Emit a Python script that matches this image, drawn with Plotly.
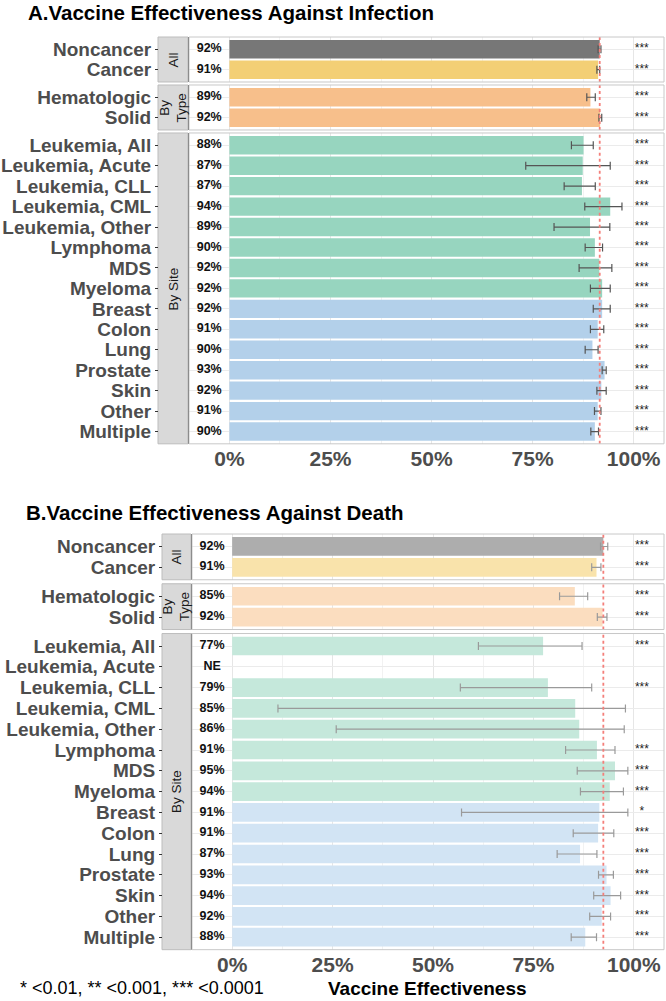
import plotly.graph_objects as go

W, H = 666, 1001
FONT = "Liberation Sans"

# ---------------- data ----------------
CATS_ALL = ["Noncancer", "Cancer"]
CATS_TYPE = ["Hematologic", "Solid"]
CATS_SITE = ["Leukemia, All", "Leukemia, Acute", "Leukemia, CLL", "Leukemia, CML",
             "Leukemia, Other", "Lymphoma", "MDS", "Myeloma", "Breast", "Colon",
             "Lung", "Prostate", "Skin", "Other", "Multiple"]
STRIP_LABELS = ["All", "By<br>Type", "By Site"]
HEME_SITES = ["Leukemia, All", "Leukemia, Acute", "Leukemia, CLL", "Leukemia, CML",
              "Leukemia, Other", "Lymphoma", "MDS", "Myeloma"]

# Infection (panel A), order: All, By Type, By Site
INF_VE = [91.6, 91.2, 89.3, 91.7,
          87.6, 87.4, 87.2, 94.2, 89.2, 90.4, 91.5, 92.2, 92.2, 91.1, 89.8, 92.8, 92.0, 91.1, 90.4]
INF_LO = [91.2, 90.9, 88.4, 91.4,
          84.6, 73.3, 82.8, 87.9, 80.3, 88.0, 86.5, 89.3, 90.0, 89.3, 88.0, 92.2, 90.9, 90.3, 89.4]
INF_HI = [91.9, 91.6, 90.5, 92.1,
          90.0, 94.2, 90.5, 97.1, 94.1, 92.3, 94.6, 94.2, 94.2, 92.6, 91.2, 93.2, 93.2, 91.9, 91.3]
INF_LABEL = ["92%", "91%", "89%", "92%",
             "88%", "87%", "87%", "94%", "89%", "90%", "92%", "92%", "92%", "91%", "90%", "93%", "92%", "91%", "90%"]
INF_SIG = ["***"] * 19

# Death (panel B)
DEA_VE = [92.4, 90.7, 85.3, 92.2,
          77.4, None, 78.6, 85.4, 86.4, 90.8, 95.3, 94.0, 91.4, 91.1, 86.6, 93.2, 94.2, 92.0, 87.9]
DEA_LO = [91.7, 89.5, 81.5, 90.9,
          61.3, None, 56.8, 11.4, 25.9, 83.0, 85.9, 86.7, 57.1, 84.9, 80.9, 91.2, 90.0, 89.0, 84.4]
DEA_HI = [93.5, 91.8, 88.5, 93.3,
          87.1, None, 89.5, 97.9, 97.6, 95.3, 98.5, 97.4, 98.5, 95.0, 90.8, 94.9, 96.7, 94.2, 90.7]
DEA_LABEL = ["92%", "91%", "85%", "92%",
             "77%", "NE", "79%", "85%", "86%", "91%", "95%", "94%", "91%", "91%", "87%", "93%", "94%", "92%", "88%"]
DEA_SIG = ["***", "***", "***", "***",
           "***", "", "***", "", "", "***", "***", "***", "*", "***", "***", "***", "***", "***", "***"]

X_TICKS = [0, 25, 50, 75, 100]
X_TICK_TEXT = ["0%", "25%", "50%", "75%", "100%"]
X_MINOR = [12.5, 37.5, 62.5, 87.5]
LABEL_X = -5
STAR_X = 102
X_RANGE = [-10, 107.5]

TITLE_A = "A.Vaccine Effectiveness Against Infection"
TITLE_B = "B.Vaccine Effectiveness Against Death"
X_TITLE = "Vaccine Effectiveness"
FOOTNOTE = "* <0.01, ** <0.001, *** <0.0001"

# ---------------- styles ----------------
COL_A = {"noncancer": "#777777", "cancer": "#F3CF75", "type": "#F7BF8B",
         "heme": "#97D5BF", "solid": "#B3D0EA"}
COL_B = {"noncancer": "#ADADAD", "cancer": "#F9E3AB", "type": "#FBDDBF",
         "heme": "#C5E8DB", "solid": "#D2E4F4"}


def color_of(cat, pal):
    if cat == "Noncancer":
        return pal["noncancer"]
    if cat == "Cancer":
        return pal["cancer"]
    if cat in CATS_TYPE:
        return pal["type"]
    if cat in HEME_SITES:
        return pal["heme"]
    return pal["solid"]


def X(px):
    return px / W


def Y(py):
    return 1 - py / H


fig = go.Figure()
layout = dict(width=W, height=H, margin=dict(l=0, r=0, t=0, b=0, autoexpand=False),
              paper_bgcolor="white", plot_bgcolor="white", showlegend=False,
              font=dict(family=FONT))
shapes = []
annotations = []

GROUPS = [CATS_ALL, CATS_TYPE, CATS_SITE]

charts = [
    dict(xid="x", yids=["y", "y2", "y3"], top=37, pitch=20.45, gap=3,
         pl=189, pr=664, sl=158, sr=188, ve=INF_VE, lo=INF_LO, hi=INF_HI,
         lab=INF_LABEL, sig=INF_SIG, pal=COL_A, err="#555555",
         title=TITLE_A, title_x=26, title_y=12),
    dict(xid="x2", yids=["y4", "y5", "y6"], top=534, pitch=20.8, gap=4,
         pl=192, pr=664, sl=162, sr=191, ve=DEA_VE, lo=DEA_LO, hi=DEA_HI,
         lab=DEA_LABEL, sig=DEA_SIG, pal=COL_B, err="#9a9a9a",
         title=TITLE_B, title_x=24, title_y=512),
]

for ci, ch in enumerate(charts):
    xid = ch["xid"]
    xkey = "xaxis" if xid == "x" else "xaxis" + xid[1:]
    y_cursor = ch["top"]
    start = 0
    for gi, cats in enumerate(GROUPS):
        n = len(cats)
        yid = ch["yids"][gi]
        ykey = "yaxis" if yid == "y" else "yaxis" + yid[1:]
        h_px = ch["pitch"] * (n + 0.2)
        y0_px, y1_px = y_cursor, y_cursor + h_px
        y_cursor = y1_px + ch["gap"]
        sl_ = slice(start, start + n)
        start += n
        ve = ch["ve"][sl_]
        lo = ch["lo"][sl_]
        hi = ch["hi"][sl_]
        plus = [None if v is None else h - v for v, h in zip(ve, hi)]
        minus = [None if v is None else v - l for v, l in zip(ve, lo)]
        fig.add_trace(go.Bar(
            x=ve, y=cats, orientation="h", width=0.9,
            marker=dict(color=[color_of(c, ch["pal"]) for c in cats], line=dict(width=0)),
            error_x=dict(type="data", symmetric=False, array=plus, arrayminus=minus,
                         color=ch["err"], thickness=1.2, width=4),
            xaxis=xid, yaxis=yid, hoverinfo="skip"))
        fig.add_trace(go.Scatter(
            x=[LABEL_X] * n, y=cats, mode="text", text=ch["lab"][sl_],
            textfont=dict(size=12.5, color="#111111", family=FONT, weight="bold"),
            xaxis=xid, yaxis=yid, hoverinfo="skip", cliponaxis=False))
        fig.add_trace(go.Scatter(
            x=[STAR_X] * n, y=cats, mode="text", text=ch["sig"][sl_],
            textfont=dict(size=12, color="#222222", family=FONT),
            xaxis=xid, yaxis=yid, hoverinfo="skip", cliponaxis=False))
        layout[ykey] = dict(
            domain=[Y(y1_px), Y(y0_px)], anchor="free", position=X(ch["sl"]),
            type="category", categoryorder="array", categoryarray=cats,
            tickmode="array", tickvals=cats, ticktext=cats,
            range=[n - 0.4, -0.6], showgrid=True, gridcolor="#EBEBEB", gridwidth=1,
            ticks="outside", ticklen=3, tickcolor="#333333", showline=False,
            zeroline=False, fixedrange=True, automargin=False,
            tickfont=dict(size=19, color="#4D4D4D", family=FONT, weight="bold"))
        # reference line at the noncancer VE
        shapes.append(dict(type="line", xref=xid, yref=f"{yid} domain",
                           x0=ch["ve"][0], x1=ch["ve"][0], y0=0, y1=1,
                           line=dict(color="#F47F7A", width=1.8, dash="dot"), layer="above"))
        # panel border
        shapes.append(dict(type="rect", xref="paper", yref="paper",
                           x0=X(ch["pl"]), x1=X(ch["pr"]), y0=Y(y1_px), y1=Y(y0_px),
                           line=dict(color="#C8C8C8", width=1), layer="above"))
        # strip
        shapes.append(dict(type="rect", xref="paper", yref="paper",
                           x0=X(ch["sl"]), x1=X(ch["sr"]), y0=Y(y1_px), y1=Y(y0_px),
                           fillcolor="#D9D9D9", line=dict(color="#BDBDBD", width=1), layer="below"))
        shapes.append(dict(type="line", xref="paper", yref="paper",
                           x0=X(ch["sr"] + 0.5), x1=X(ch["sr"] + 0.5), y0=Y(y1_px), y1=Y(y0_px),
                           line=dict(color="#8C8C8C", width=1), layer="above"))
        annotations.append(dict(xref="paper", yref="paper", x=X((ch["sl"] + ch["sr"]) / 2),
                                y=Y((y0_px + y1_px) / 2), text=STRIP_LABELS[gi], showarrow=False,
                                textangle=-90, font=dict(size=13.5, color="#1A1A1A", family=FONT),
                                xanchor="center", yanchor="middle"))
    layout[xkey] = dict(
        domain=[X(ch["pl"]), X(ch["pr"])], anchor=ch["yids"][2], range=X_RANGE,
        tickmode="array", tickvals=X_TICKS, ticktext=X_TICK_TEXT,
        showgrid=True, gridcolor="#E6E6E6", gridwidth=1, zeroline=False,
        minor=dict(tickmode="array", tickvals=X_MINOR,
                   showgrid=True, gridcolor="#F2F2F2", gridwidth=0.8),
        ticks="", fixedrange=True, showline=False, automargin=False,
        tickfont=dict(size=21, color="#4D4D4D", family=FONT, weight="bold"))
    annotations.append(dict(xref="paper", yref="paper", x=X(ch["title_x"]), y=Y(ch["title_y"]),
                            text=ch["title"], showarrow=False, xanchor="left", yanchor="middle",
                            font=dict(size=20.5, color="#000000", family=FONT, weight="bold")))

annotations.append(dict(xref="paper", yref="paper", x=X(428), y=Y(988), text=X_TITLE,
                        showarrow=False, xanchor="center", yanchor="middle",
                        font=dict(size=19, color="#000000", family=FONT, weight="bold")))
annotations.append(dict(xref="paper", yref="paper", x=X(18), y=Y(988), text=FOOTNOTE,
                        showarrow=False, xanchor="left", yanchor="middle",
                        font=dict(size=18, color="#000000", family=FONT)))

layout["shapes"] = shapes
layout["annotations"] = annotations
fig.update_layout(**layout)
fig.write_html("out.html", config={"displayModeBar": False},
               post_script="document.body.style.margin='0';document.body.style.overflow='hidden';")
